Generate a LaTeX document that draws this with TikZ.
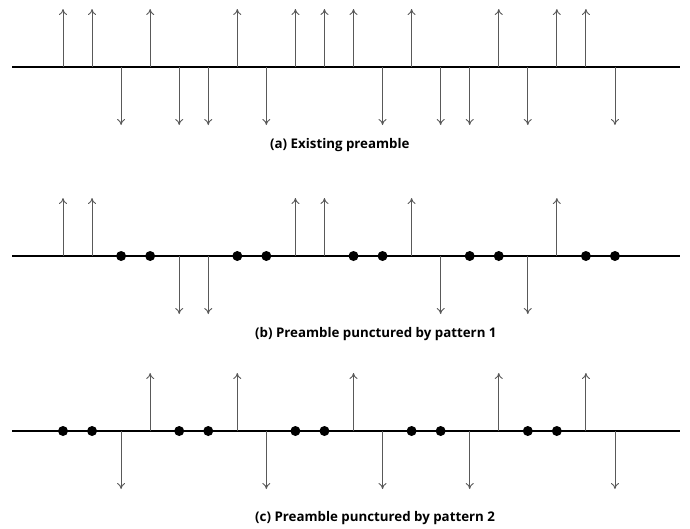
\documentclass[tikz,border=0pt]{standalone}
\usepackage{fontspec}
\setmainfont{Open Sans}
\usetikzlibrary{arrows.meta}
\begin{document}
\begin{tikzpicture}[x=1pt,y=-1pt,
  axisline/.style={line width=1.6pt,black},
  sym/.style={line width=0.9pt,draw=black!65,-{To[length=6pt,width=8pt]}},
  pdot/.style={circle,fill=black,inner sep=0pt,minimum size=10pt},
  captext/.style={anchor=west,font=\bfseries\fontsize{13.3}{15}\selectfont,inner sep=0pt}]
\useasboundingbox (0,0) rectangle (690,528);
% axes
\coordinate (aL) at (12,67);  \coordinate (aR) at (680,67);
\coordinate (bL) at (12,256); \coordinate (bR) at (680,256);
\coordinate (cL) at (12,431); \coordinate (cR) at (680,431);
\draw[axisline] (aL) -- (aR);
\draw[axisline] (bL) -- (bR);
\draw[axisline] (cL) -- (cR);
% row a: u=up, d=down
\foreach \s [count=\k from 0] in {u,u,d,u,d,d,u,d,u,u,u,d,u,d,d,u,d,u,u,d}{
  \coordinate (a\k) at ({63+29.05*\k},67);
  \if u\s \draw[sym] (a\k) -- ++(0,-58); \else \draw[sym] (a\k) -- ++(0,58); \fi
}
% row b: p = punctured
\foreach \s [count=\k from 0] in {u,u,p,p,d,d,p,p,u,u,p,p,u,d,p,p,d,u,p,p}{
  \coordinate (b\k) at ({63+29.05*\k},256);
  \if u\s \draw[sym] (b\k) -- ++(0,-58); \fi
  \if d\s \draw[sym] (b\k) -- ++(0,58); \fi
  \if p\s \node[pdot] at (b\k) {}; \fi
}
% row c
\foreach \s [count=\k from 0] in {p,p,d,u,p,p,u,d,p,p,u,d,p,p,d,u,p,p,u,d}{
  \coordinate (c\k) at ({63+29.05*\k},431);
  \if u\s \draw[sym] (c\k) -- ++(0,-58); \fi
  \if d\s \draw[sym] (c\k) -- ++(0,58); \fi
  \if p\s \node[pdot] at (c\k) {}; \fi
}
\node[captext] (capa) at (270,145) {(a) Existing preamble};
\node[captext] (capb) at (255,334) {(b) Preamble punctured by pattern 1};
\node[captext] (capc) at (255,518) {(c) Preamble punctured by pattern 2};
\end{tikzpicture}
\end{document}
